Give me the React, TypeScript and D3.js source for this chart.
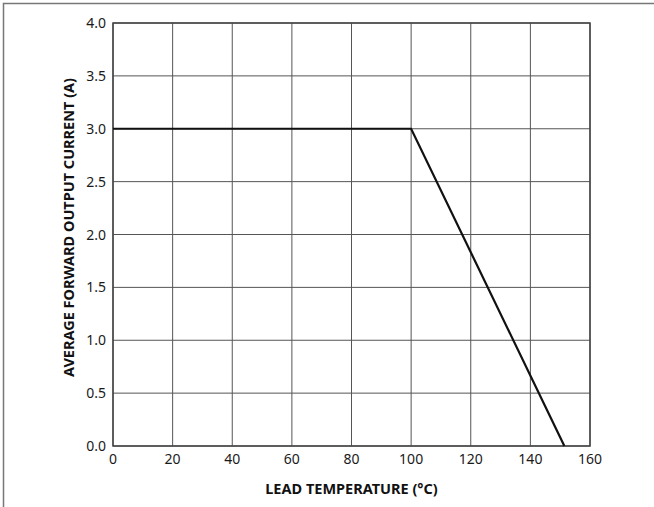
import { useEffect, useRef } from 'react';
import * as d3 from 'd3';

const temps = [0, 100, 151.4];
const currents = [3.0, 3.0, 0.0];
const xTicks = [0, 20, 40, 60, 80, 100, 120, 140, 160];
const yTicks = [0, 0.5, 1.0, 1.5, 2.0, 2.5, 3.0, 3.5, 4.0];
const xTitle = 'LEAD TEMPERATURE (°C)';
const yTitle = 'AVERAGE FORWARD OUTPUT CURRENT (A)';

export default function App() {
  const svgRef = useRef<SVGSVGElement>(null);

  useEffect(() => {
    if (!svgRef.current) return;
    d3.select(svgRef.current).selectAll('*').remove();

    const W = 654;
    const H = 507;
    const margin = { top: 23, right: 64, bottom: 61, left: 113 };
    const width = W - margin.left - margin.right;
    const height = H - margin.top - margin.bottom;

    const root = d3.select(svgRef.current).attr('width', W).attr('height', H);

    // outer frame
    root
      .append('rect')
      .attr('x', 3.5)
      .attr('y', 3.5)
      .attr('width', W + 20)
      .attr('height', H + 20)
      .attr('fill', 'none')
      .attr('stroke', '#777')
      .attr('stroke-width', 1.5);

    const svg = root.append('g').attr('transform', `translate(${margin.left},${margin.top})`);

    const x = d3.scaleLinear().domain([0, 160]).range([0, width]);
    const y = d3.scaleLinear().domain([0, 4]).range([height, 0]);

    // grid
    svg
      .selectAll('.vgrid')
      .data(xTicks)
      .enter()
      .append('line')
      .attr('x1', (d) => x(d))
      .attr('x2', (d) => x(d))
      .attr('y1', 0)
      .attr('y2', height)
      .attr('stroke', '#555')
      .attr('stroke-width', 1);

    svg
      .selectAll('.hgrid')
      .data(yTicks)
      .enter()
      .append('line')
      .attr('x1', 0)
      .attr('x2', width)
      .attr('y1', (d) => y(d))
      .attr('y2', (d) => y(d))
      .attr('stroke', '#555')
      .attr('stroke-width', 1);

    // frame
    svg
      .append('rect')
      .attr('width', width)
      .attr('height', height)
      .attr('fill', 'none')
      .attr('stroke', '#444')
      .attr('stroke-width', 1.5);

    // curve
    const pts = temps.map((t, i) => ({ t, c: currents[i] }));
    const line = d3
      .line<{ t: number; c: number }>()
      .x((d) => x(d.t))
      .y((d) => y(d.c));
    svg
      .append('path')
      .datum(pts)
      .attr('fill', 'none')
      .attr('stroke', '#111')
      .attr('stroke-width', 2.2)
      .attr('d', line);

    const font = "'Noto Sans', 'Open Sans', sans-serif";

    // tick labels
    svg
      .selectAll('.xt')
      .data(xTicks)
      .enter()
      .append('text')
      .attr('x', (d) => x(d))
      .attr('y', height + 18)
      .attr('text-anchor', 'middle')
      .style('font-family', font)
      .style('font-size', '14px')
      .style('fill', '#1a1a1a')
      .text((d) => d);

    svg
      .selectAll('.yt')
      .data(yTicks)
      .enter()
      .append('text')
      .attr('x', -7)
      .attr('y', (d) => y(d) + 5)
      .attr('text-anchor', 'end')
      .style('font-family', font)
      .style('font-size', '14px')
      .style('fill', '#1a1a1a')
      .text((d) => d.toFixed(1));

    // axis titles
    svg
      .append('text')
      .attr('x', width / 2)
      .attr('y', height + 48)
      .attr('text-anchor', 'middle')
      .style('font-family', font)
      .style('font-size', '14.5px')
      .style('font-weight', 'bold')
      .style('fill', '#111')
      .text(xTitle);

    svg
      .append('text')
      .attr('transform', `translate(-39, ${height / 2 - 7}) rotate(-90)`)
      .attr('text-anchor', 'middle')
      .style('font-family', font)
      .style('font-size', '14.5px')
      .style('font-weight', 'bold')
      .style('fill', '#111')
      .text(yTitle);
  }, []);

  return (
    <div style={{ position: 'absolute', left: 0, top: 0, width: 654, height: 507, overflow: 'hidden', background: '#fff' }}>
      <svg ref={svgRef} style={{ display: 'block' }} />
    </div>
  );
}
